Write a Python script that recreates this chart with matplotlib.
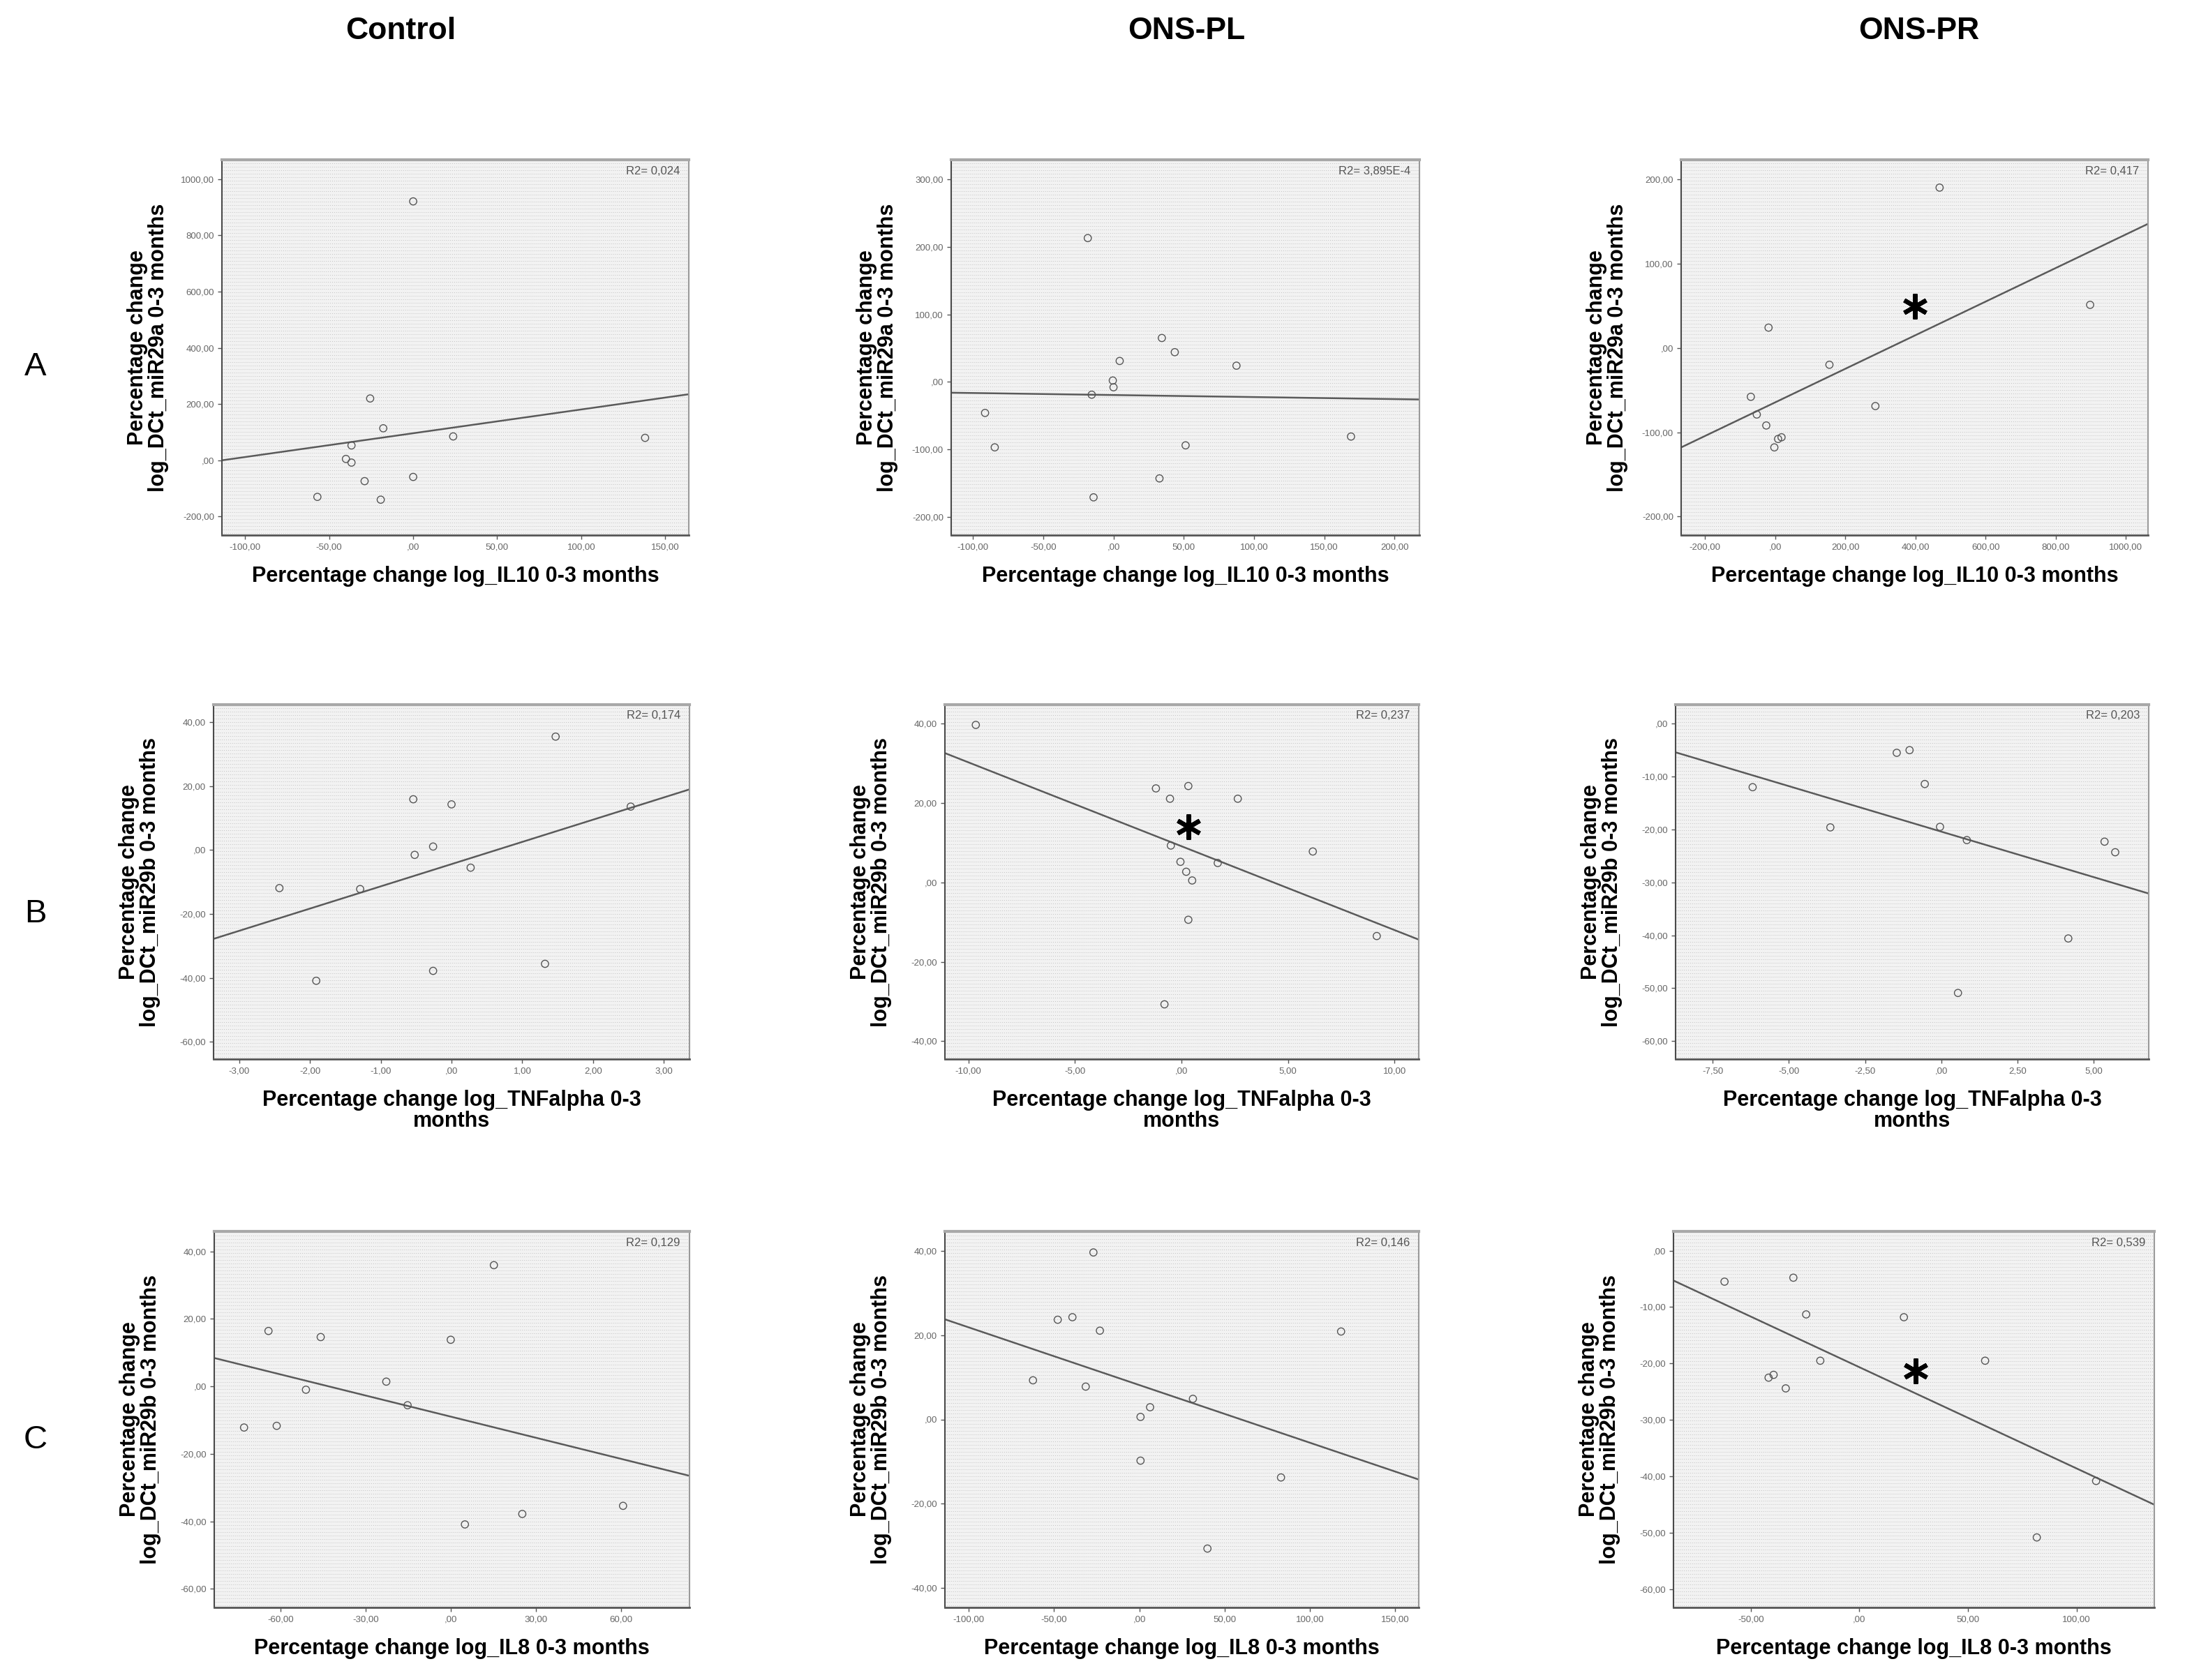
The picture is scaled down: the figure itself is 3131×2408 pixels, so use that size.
import numpy as np
import matplotlib
matplotlib.use("Agg")
import matplotlib.pyplot as plt

plt.rcParams["font.family"] = ["Liberation Sans", "DejaVu Sans"]

W, H = 3131, 2408

col_titles = ["Control", "ONS-PL", "ONS-PR"]
row_labels = ["A", "B", "C"]

xlabels = ["Percentage change log_IL10 0-3 months",
           "Percentage change log_TNFalpha 0-3\nmonths",
           "Percentage change log_IL8 0-3 months"]
ylabels = ["Percentage change\nlog_DCt_miR29a 0-3 months",
           "Percentage change\nlog_DCt_miR29b 0-3 months",
           "Percentage change\nlog_DCt_miR29b 0-3 months"]

# ---- row A : IL10 vs miR29a ----
ctrl_a_x = [0, -25.6, -17.8, 23.8, 138, -36.7, -40, -36.7, -28.9, 0, -57, -19.3]
ctrl_a_y = [921, 220, 114, 85, 80, 53, 5, -8, -74, -59, -130, -140]
pl_a_x = [-18.3, 34.4, 43.6, 4.4, 87.5, -0.5, 0, -15.5, -91.4, -84.5, 51.3, 169, 32.7, -14.2]
pl_a_y = [213, 65, 44, 31, 24, 2, -8, -19, -46, -97, -94, -81, -143, -171]
pr_a_x = [469, 898, -18.5, 155, -69, 286, -52, -25, 18.5, 8.7, -2]
pr_a_y = [190, 51, 24, -20, -58, -69, -79, -92, -106, -108, -118]

# ---- row B : TNFalpha vs miR29b ----
ctrl_b_x = [1.47, -0.54, 0, 2.53, -0.26, -0.52, 0.27, -2.43, -1.29, 1.32, -0.26, -1.91]
ctrl_b_y = [35.5, 15.9, 14.3, 13.6, 1.1, -1.5, -5.5, -11.9, -12.2, -35.6, -37.8, -40.9]
pl_b_x = [-9.65, -1.2, 0.32, -0.54, 2.64, -0.5, 6.16, -0.05, 1.7, 0.22, 0.5, 0.32, 9.16, -0.8]
pl_b_y = [39.7, 23.7, 24.3, 21.1, 21.1, 9.3, 7.8, 5.2, 4.9, 2.7, 0.5, -9.4, -13.5, -30.7]
pr_b_x = [-1.46, -1.04, -6.19, -0.54, -3.64, -0.04, 0.84, 5.36, 5.71, 4.17, 0.55]
pr_b_y = [-5.5, -5.0, -12.0, -11.4, -19.6, -19.5, -22.0, -22.3, -24.3, -40.6, -50.9]

# ---- row C : IL8 vs miR29b ----
ctrl_c_x = [15.2, -64.2, -45.8, 0, -22.7, -51, -15.2, -72.8, -61.3, 25.2, 5.0, 60.7]
ctrl_c_y = [35.9, 16.4, 14.6, 13.8, 1.4, -1.0, -5.6, -12.2, -11.7, -37.8, -40.9, -35.4]
pl_c_x = [-26.9, -47.8, -39.2, -23.1, 118.2, -62.3, -31.4, 31.4, 6.3, 0.7, 0.7, 83, 39.9]
pl_c_y = [39.7, 23.7, 24.3, 21.1, 20.9, 9.3, 7.8, 4.9, 2.9, 0.6, -9.8, -13.8, -30.7]
pr_c_x = [-62.1, -30.4, -24.5, 20.5, -18, 57.9, -39.5, -41.8, -33.9, 109, 81.7]
pr_c_y = [-5.5, -4.8, -11.3, -11.8, -19.5, -19.5, -22, -22.5, -24.4, -40.8, -50.8]

points_x = [[ctrl_a_x, pl_a_x, pr_a_x], [ctrl_b_x, pl_b_x, pr_b_x], [ctrl_c_x, pl_c_x, pr_c_x]]
points_y = [[ctrl_a_y, pl_a_y, pr_a_y], [ctrl_b_y, pl_b_y, pr_b_y], [ctrl_c_y, pl_c_y, pr_c_y]]

# fit lines (slope, intercept) and R2 as printed
fit_slope = [[0.846, -0.03, 0.1992], [6.96, -2.114, -1.719], [-0.2085, -0.1372, -0.1793]]
fit_icpt = [[96.3, -19.5, -64.7], [-4.4, 9.13, -20.4], [-8.97, 8.17, -20.65]]
r2_text = [["R2= 0,024", "R2= 3,895E-4", "R2= 0,417"],
           ["R2= 0,174", "R2= 0,237", "R2= 0,203"],
           ["R2= 0,129", "R2= 0,146", "R2= 0,539"]]

# significance asterisks (row, col, x, y)
stars = [(0, 2, 398, 49), (1, 1, 0.32, 14.1), (2, 2, 25.8, -21.3)]

xlims = [[(-113.8, 164), (-115.5, 217.7), (-267.6, 1063)],
         [(-3.36, 3.36), (-11.1, 11.13), (-8.72, 6.81)],
         [(-83.3, 84.1), (-113.9, 163.7), (-85.6, 135.8)]]
ylims = [[(-266, 1069), (-227, 329), (-222, 223)],
         [(-65.4, 45.5), (-44.5, 44.8), (-63.4, 3.6)],
         [(-65.5, 45.9), (-44.7, 44.7), (-63.2, 3.4)]]
xticks = [[[-100, -50, 0, 50, 100, 150], [-100, -50, 0, 50, 100, 150, 200], [-200, 0, 200, 400, 600, 800, 1000]],
          [[-3, -2, -1, 0, 1, 2, 3], [-10, -5, 0, 5, 10], [-7.5, -5, -2.5, 0, 2.5, 5]],
          [[-60, -30, 0, 30, 60], [-100, -50, 0, 50, 100, 150], [-50, 0, 50, 100]]]
yticks = [[[-200, 0, 200, 400, 600, 800, 1000], [-200, -100, 0, 100, 200, 300], [-200, -100, 0, 100, 200]],
          [[-60, -40, -20, 0, 20, 40], [-40, -20, 0, 20, 40], [-60, -50, -40, -30, -20, -10, 0]],
          [[-60, -40, -20, 0, 20, 40], [-40, -20, 0, 20, 40], [-60, -50, -40, -30, -20, -10, 0]]]

# panel boxes in pixels: (left, right) per row/col, (top, bottom) per row
box_lr = [[(318, 987), (1363, 2034), (2409, 3078)],
          [(306, 988), (1354, 2033), (2401, 3079)],
          [(307, 988), (1354, 2033), (2398, 3087)]]
box_tb = [(229, 767), (1010, 1518), (1765, 2304)]


def fmt(v):
    s = f"{v:.2f}".replace(".", ",")
    if s.startswith("0,"):
        s = s[1:]
    elif s.startswith("-0,"):
        s = "-" + s[2:]
    return s


fig = plt.figure(figsize=(W / 100, H / 100), dpi=100)
fig.patch.set_facecolor("white")

for r in range(3):
    top, bot = box_tb[r]
    for c in range(3):
        left, right = box_lr[r][c]
        wpx, hpx = right - left, bot - top
        ax = fig.add_axes([left / W, 1 - bot / H, wpx / W, hpx / H])
        ax.set_facecolor("#f2f2f2")
        # dotted texture of the SPSS chart background (axes fraction)
        ax.hlines(np.arange(3, hpx, 5) / hpx, 0, 1, transform=ax.transAxes,
                  colors="#c2c2c2", lw=0.7, linestyles=[(0, (1, 2))], zorder=0)

        x0, x1 = xlims[r][c]
        ax.set_xlim(x0, x1)
        ax.set_ylim(*ylims[r][c])
        xs = np.array([x0, x1])
        ax.plot(xs, fit_slope[r][c] * xs + fit_icpt[r][c], color="#5a5a5a", lw=1.8, zorder=2)
        ax.scatter(points_x[r][c], points_y[r][c], s=55, facecolors="none",
                   edgecolors="#555555", linewidths=1.0, zorder=3)

        ax.set_xticks(xticks[r][c])
        ax.set_xticklabels([fmt(v) for v in xticks[r][c]])
        ax.set_yticks(yticks[r][c])
        ax.set_yticklabels([fmt(v) for v in yticks[r][c]])
        ax.tick_params(direction="out", length=4, width=1, color="#555555",
                       labelsize=9.5, labelcolor="#666666", pad=4)

        ax.spines["top"].set_color("#a8a8a8")
        ax.spines["top"].set_linewidth(3)
        ax.spines["right"].set_color("#9a9a9a")
        ax.spines["right"].set_linewidth(1.5)
        ax.spines["left"].set_color("#4a4a4a")
        ax.spines["left"].set_linewidth(1.5)
        ax.spines["bottom"].set_color("#555555")
        ax.spines["bottom"].set_linewidth(2)

        ax.text(1 - 13 / wpx, 1 - 16 / hpx, r2_text[r][c], transform=ax.transAxes,
                ha="right", va="center", fontsize=12, color="#555555")

        ax.text(0.5, -44 / hpx, xlabels[r], transform=ax.transAxes, ha="center", va="top",
                fontsize=22, fontweight="bold", linespacing=1.0)
        ax.text(-106 / wpx, 0.5, ylabels[r], transform=ax.transAxes, ha="center", va="center",
                rotation=90, fontsize=22, fontweight="bold", linespacing=1.0)

        for sr, sc, sx, sy in stars:
            if sr == r and sc == c:
                ax.plot([sx], [sy], marker=(6, 2, 0), markersize=26, mew=4.5,
                        color="black", zorder=4)

for c, t in enumerate(col_titles):
    fig.text([574, 1700, 2750][c] / W, 1 - 44 / H, t, ha="center", va="center",
             fontsize=32, fontweight="bold")

for r, lab in enumerate(row_labels):
    fig.text(51 / W, 1 - [526, 1310, 2064][r] / H, lab, ha="center", va="center", fontsize=34)

fig.savefig("out.png", dpi=100, facecolor="white")
